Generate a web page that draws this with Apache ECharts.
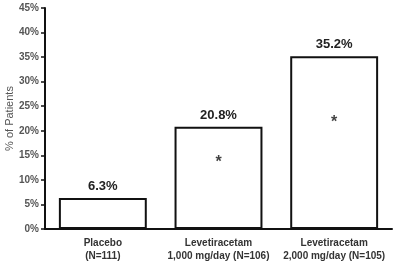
<!DOCTYPE html>
<html>
<head>
<meta charset="utf-8">
<script src="https://cdn.jsdelivr.net/npm/echarts@6/dist/echarts.min.js"></script>
<style>
  html, body { margin: 0; padding: 0; background: #fff; }
  #chart { width: 400px; height: 268px; }
</style>
</head>
<body>
<div id="chart"></div>
<script>
  // data
  var categories = ['Placebo\n(N=111)', 'Levetiracetam\n1,000 mg/day (N=106)', 'Levetiracetam\n2,000 mg/day (N=105)'];
  var values = [6.3, 20.8, 35.2];
  var starValues = [null, 13.6, 21.6];  // where the * sits inside each bar
  var yTicks = [0, 5, 10, 15, 20, 25, 30, 35, 40, 45];

  var myChart = echarts.init(document.getElementById('chart'));

  var option = {
    animation: false,
    grid: { left: 45, right: 8, top: 8, bottom: 39, outerBoundsMode: 'none' },
    xAxis: {
      type: 'category',
      data: categories,
      axisLine: { lineStyle: { color: '#111', width: 2 } },
      axisTick: { show: false },
      axisLabel: {
        color: '#333', fontWeight: 'bold', fontSize: 10, lineHeight: 13,
        fontFamily: 'Liberation Sans, Arial', margin: 8, interval: 0
      }
    },
    yAxis: {
      type: 'value',
      min: yTicks[0],
      max: yTicks[yTicks.length - 1],
      interval: 5,
      name: '% of Patients',
      nameLocation: 'middle',
      nameGap: 30,
      nameRotate: 90,
      nameMoveOverlap: false,
      nameTextStyle: { color: '#555', fontSize: 11, fontFamily: 'Liberation Sans, Arial' },
      axisLine: { show: true, lineStyle: { color: '#111', width: 2 } },
      axisTick: { show: true, length: 4, lineStyle: { color: '#111', width: 1.5 } },
      splitLine: { show: false },
      axisLabel: {
        color: '#555', fontWeight: 'bold', fontSize: 10, margin: 6,
        fontFamily: 'Liberation Sans, Arial',
        formatter: '{value}%'
      }
    },
    series: [
      {
        type: 'bar',
        data: values,
        barWidth: '76%',
        itemStyle: { color: '#fff', borderColor: '#111', borderWidth: 2 },
        label: {
          show: true, position: 'top', distance: 5,
          color: '#222', fontWeight: 'bold', fontSize: 13,
          fontFamily: 'Liberation Sans, Arial',
          formatter: function (p) { return p.value.toFixed(1) + '%'; }
        }
      },
      {
        type: 'scatter',
        data: starValues,
        symbolSize: 0,
        silent: true,
        label: {
          show: true, position: 'inside', formatter: '*',
          color: '#111', fontWeight: 'bold', fontSize: 16,
          fontFamily: 'Liberation Sans, Arial'
        }
      }
    ]
  };

  myChart.setOption(option);
</script>
</body>
</html>
